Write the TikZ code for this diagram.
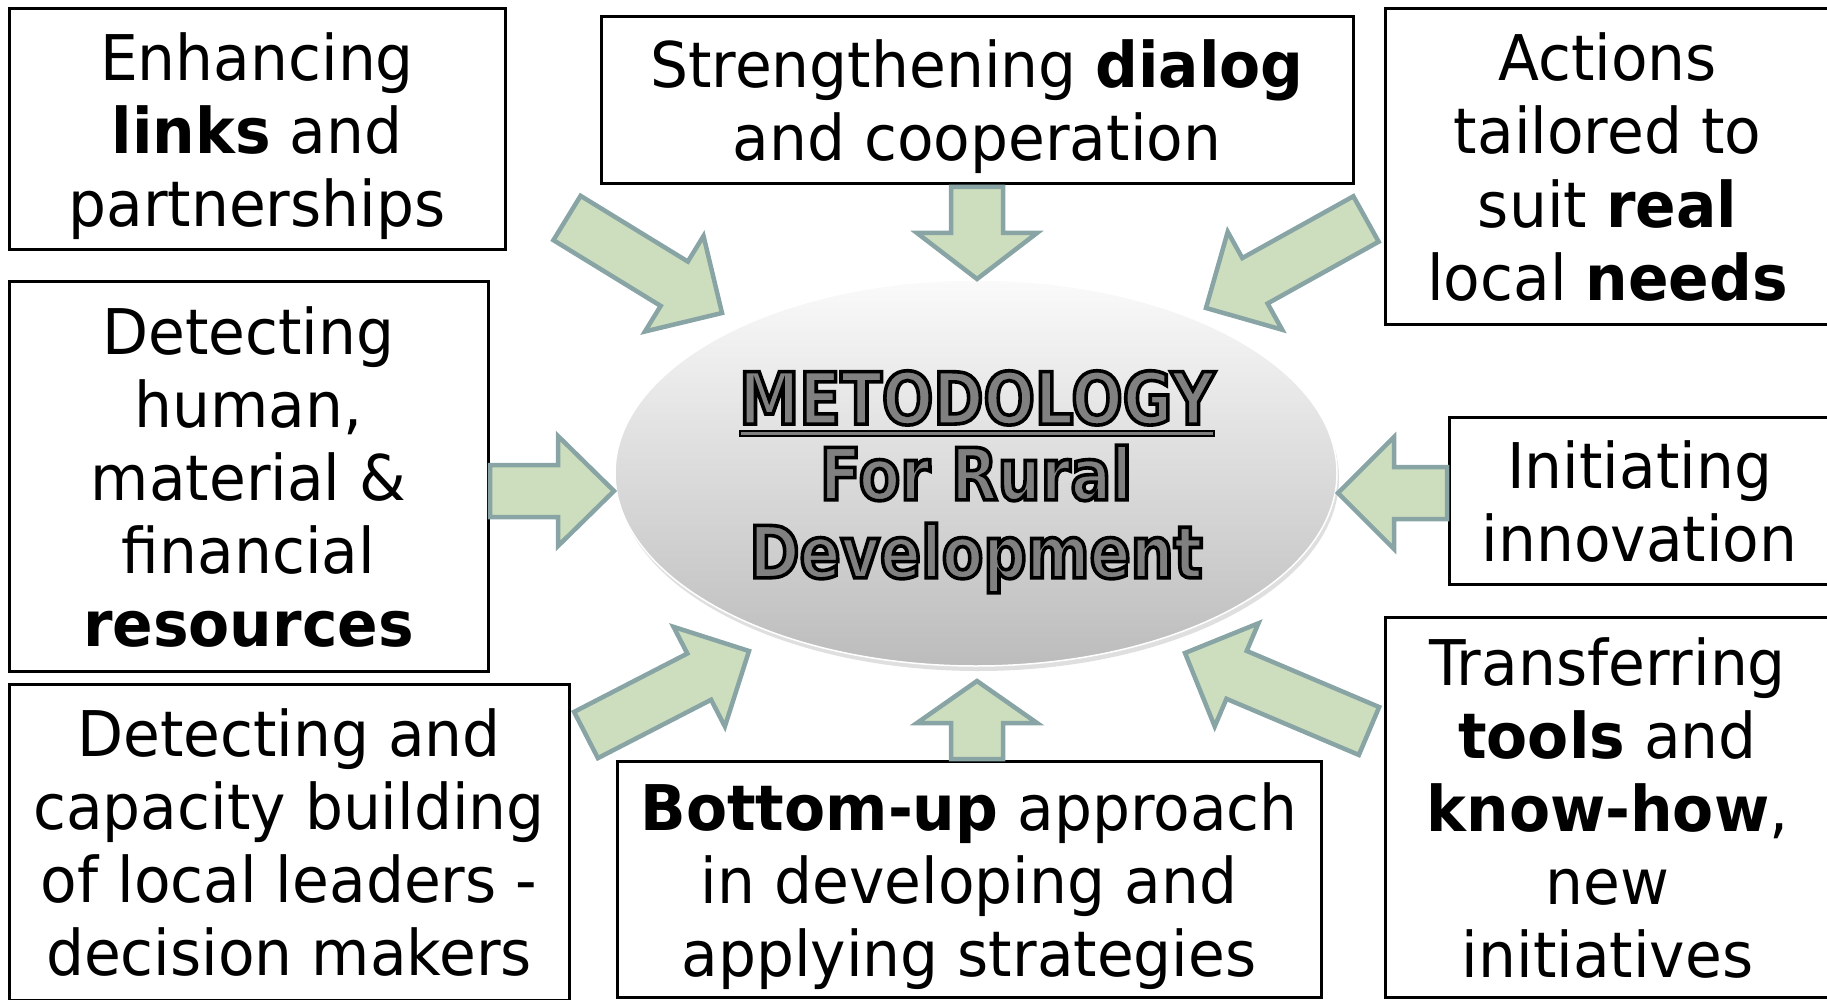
\documentclass[tikz,border=0pt]{standalone}
\usepackage{fontspec}
\setmainfont{DejaVu Sans}[FakeStretch=0.95]
\newfontfamily\hubfont{DejaVu Sans Bold}[FakeStretch=0.84]
\usetikzlibrary{calc}
\usetikzlibrary{shapes.geometric}
\usetikzlibrary{shadows}
\definecolor{arrfill}{RGB}{205,222,190}
\definecolor{arrline}{RGB}{136,164,164}
\definecolor{ringtop}{RGB}{250,250,250}
\definecolor{ringbot}{RGB}{188,188,188}
\definecolor{wordgray}{RGB}{128,128,128}
% outlined grey letters: fill, then stroke in black
\newcommand{\hubline}[1]{\textcolor{wordgray}{\special{pdf:literal direct 2 Tr 3.6 w 0 0 0 RG}#1\special{pdf:literal direct 0 Tr}}}
\newcommand{\thickul}[1]{\setbox0\hbox{#1}\rlap{\copy0}\raisebox{-13pt}{\rlap{\color{black}\rule{\wd0}{7pt}}\hspace{2pt}\raisebox{2pt}{\color{wordgray}\rule{\dimexpr\wd0-4pt\relax}{3pt}}}}
\newcommand{\tstrut}{\rule[-17pt]{0pt}{82pt}}
\newcommand{\hstrut}{\rule[-20pt]{0pt}{96pt}}
\tikzset{
	topic/.style={draw=black, line width=3pt, fill=white, align=center, inner sep=0pt,
		font=\fontsize{63}{73}\selectfont, execute at end node=\tstrut},
	blockarr/.style 2 args={draw=arrline, fill=arrfill, line width=4.5pt,
		to path={let \p1=($(\tikztotarget)-(\tikztostart)$),
			\n1={atan2(\y1,\x1)}, \n2={veclen(\x1,\y1)-#1} in
			($(\tikztostart)+({\n1+90}:26)$)
			-- ($(\tikztostart)+(\n1:\n2)+({\n1+90}:26)$)
			-- ($(\tikztostart)+(\n1:\n2)+({\n1+90}:#2)$)
			-- (\tikztotarget)
			-- ($(\tikztostart)+(\n1:\n2)+({\n1-90}:#2)$)
			-- ($(\tikztostart)+(\n1:\n2)+({\n1-90}:26)$)
			-- ($(\tikztostart)+({\n1-90}:26)$) -- cycle}}
}

\begin{document}
\begin{tikzpicture}[x=1pt, y=1pt]
	\useasboundingbox (0,0) rectangle (1827,-1000);
	\clip (0,0) rectangle (1827,-1000);

	% the boxes round the hub
	\node[topic, minimum width=496, minimum height=241] (links) at (257,-129.5)
		{\tstrut Enhancing\\\textbf{links} and\\partnerships};
	\node[topic, minimum width=752, minimum height=167] (dialog) at (977,-100.5)
		{\tstrut Strengthening \textbf{dialog}\\and cooperation};
	\node[topic, minimum width=445, minimum height=315] (needs) at (1607.5,-166.5)
		{\tstrut Actions\\tailored to\\suit \textbf{real}\\local \textbf{needs}};
	\node[topic, minimum width=479, minimum height=390] (resources) at (248.5,-476)
		{\tstrut Detecting\\human,\\material \&\\financial\\\textbf{resources}};
	\node[topic, minimum width=381, minimum height=167] (innovation) at (1639.5,-500.5)
		{\tstrut Initiating\\innovation};
	\node[topic, minimum width=560, minimum height=316] (leaders) at (289,-842)
		{\tstrut Detecting and\\capacity building\\of local leaders -\\decision makers};
	\node[topic, minimum width=704, minimum height=236] (bottomup) at (969,-879)
		{\tstrut\textbf{Bottom-up} approach\\in developing and\\applying strategies};
	\node[topic, minimum width=445, minimum height=380] (tools) at (1607.5,-807)
		{\tstrut Transferring\\\textbf{tools} and\\\textbf{know-how},\\new\\initiatives};

	% the hub
	\node[ellipse, minimum width=722, minimum height=386, inner sep=0pt,
		top color=ringtop, bottom color=ringbot, draw=white, line width=1.5pt,
		drop shadow={opacity=0.25, shadow xshift=2pt, shadow yshift=-5pt},
		align=center, font=\hubfont\fontsize{72}{73}\selectfont] (method) at (976,-473)
		{\hstrut\hubline{\thickul{METODOLOGY}}\\\hubline{For Rural}\\\hubline{Development}\hstrut};

	% arrow ends
	\coordinate (a1) at (567,-218);   \coordinate (b1) at (722,-313);
	\coordinate (a2) at (977,-187);   \coordinate (b2) at (977,-279);
	\coordinate (a3) at (1366,-219);  \coordinate (b3) at (1206,-308);
	\coordinate (a4) at (490,-491);   \coordinate (b4) at (614,-491);
	\coordinate (a5) at (1447,-493);  \coordinate (b5) at (1338,-493);
	\coordinate (a6) at (586,-735);   \coordinate (b6) at (749,-651);
	\coordinate (a7) at (977,-759);   \coordinate (b7) at (977,-681);
	\coordinate (a8) at (1369,-731);  \coordinate (b8) at (1185,-653);

	\draw[blockarr={56}{56}] (a1) to (b1);
	\draw[blockarr={46}{60}] (a2) to (b2);
	\draw[blockarr={56}{56}] (a3) to (b3);
	\draw[blockarr={56}{55}] (a4) to (b4);
	\draw[blockarr={56}{56}] (a5) to (b5);
	\draw[blockarr={56}{56}] (a6) to (b6);
	\draw[blockarr={42}{60}] (a7) to (b7);
	\draw[blockarr={56}{56}] (a8) to (b8);
\end{tikzpicture}
\end{document}
